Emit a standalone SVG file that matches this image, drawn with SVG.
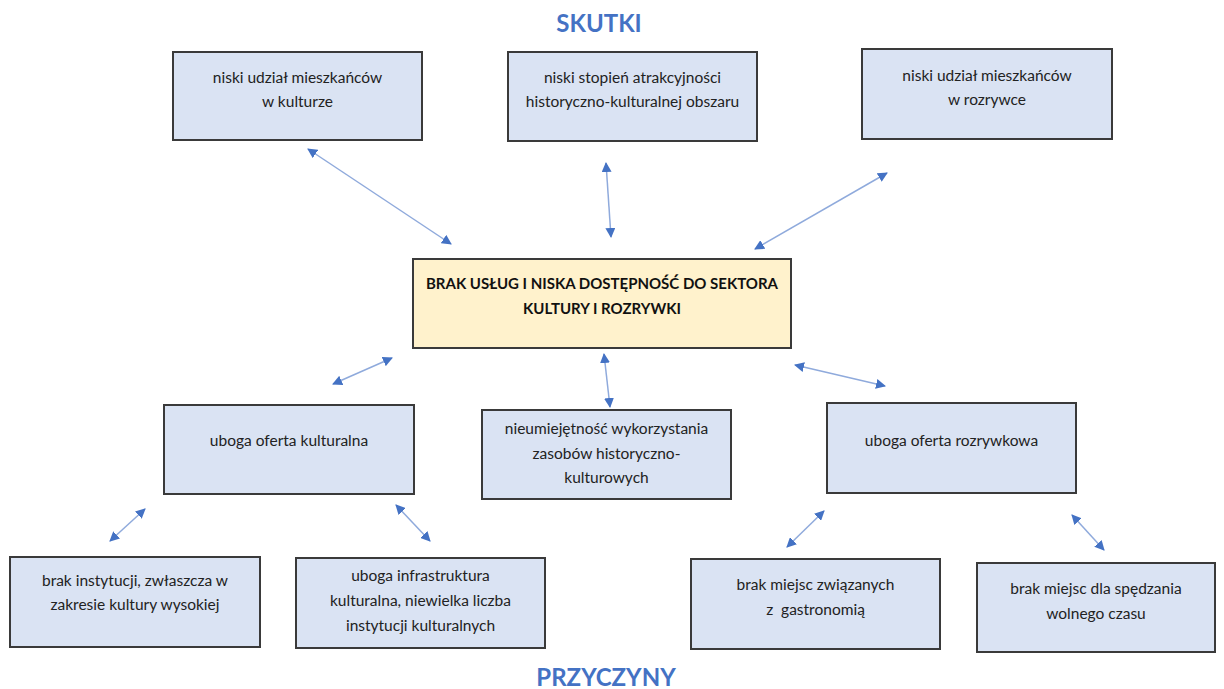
<svg xmlns="http://www.w3.org/2000/svg" width="1224" height="689" viewBox="0 0 1224 689">
<style>
.box{fill:#DAE3F3;stroke:#3a3a3a;stroke-width:2}
.main{fill:#FFF2CC;stroke:#3a3a3a;stroke-width:2}
.t{font-family:Lato,"Liberation Sans",sans-serif;font-size:15.5px;fill:#222;text-anchor:middle}
.tb{font-family:Lato,"Liberation Sans",sans-serif;font-size:15px;font-weight:bold;fill:#111;text-anchor:middle}
.h{font-family:Lato,"Liberation Sans",sans-serif;font-size:24px;font-weight:bold;fill:#4472C4;text-anchor:middle}
.c{stroke:#8FAADC;stroke-width:1.5;fill:none;marker-start:url(#ah);marker-end:url(#ah)}
</style>
<defs>
<marker id="ah" viewBox="0 0 10 10" refX="9" refY="5" markerWidth="10" markerHeight="10" markerUnits="userSpaceOnUse" orient="auto-start-reverse">
<path d="M0,0 L10,5 L0,10 z" fill="#4472C4"/>
</marker>
</defs>
<rect width="1224" height="689" fill="#fff"/>
<text class="h" x="599" y="32">SKUTKI</text>
<text class="h" x="606" y="686">PRZYCZYNY</text>

<g id="connectors">
<line class="c" x1="308" y1="149" x2="451" y2="244"/>
<line class="c" x1="606" y1="163" x2="611" y2="237"/>
<line class="c" x1="887" y1="173" x2="755" y2="249"/>
<line class="c" x1="392" y1="358" x2="333" y2="384"/>
<line class="c" x1="604" y1="354" x2="610" y2="407"/>
<line class="c" x1="795" y1="365" x2="885" y2="386"/>
<line class="c" x1="145" y1="509" x2="110" y2="541"/>
<line class="c" x1="396" y1="505" x2="430" y2="541"/>
<line class="c" x1="824" y1="511" x2="787" y2="547"/>
<line class="c" x1="1072" y1="515" x2="1104" y2="550"/>
</g>

<g id="skutek1">
<rect class="box" x="173" y="52" width="249" height="88"/>
<text class="t" x="297.5" y="83">niski udział mieszkańców</text>
<text class="t" x="297.5" y="107">w kulturze</text>
</g>
<g id="skutek2">
<rect class="box" x="508" y="52" width="249" height="89"/>
<text class="t" x="632.5" y="83">niski stopień atrakcyjności</text>
<text class="t" x="632.5" y="107">historyczno-kulturalnej obszaru</text>
</g>
<g id="skutek3">
<rect class="box" x="862" y="49" width="250" height="90"/>
<text class="t" x="987" y="81">niski udział mieszkańców</text>
<text class="t" x="987" y="105">w rozrywce</text>
</g>
<g id="problem">
<rect class="main" x="413" y="259" width="378" height="89"/>
<text class="tb" x="602" y="289">BRAK USŁUG I NISKA DOSTĘPNOŚĆ DO SEKTORA</text>
<text class="tb" x="602" y="314">KULTURY I ROZRYWKI</text>
</g>
<g id="przyczyna1">
<rect class="box" x="164" y="405" width="250" height="89"/>
<text class="t" x="289" y="446">uboga oferta kulturalna</text>
</g>
<g id="przyczyna2">
<rect class="box" x="482" y="410" width="249" height="89"/>
<text class="t" x="606.5" y="434">nieumiejętność wykorzystania</text>
<text class="t" x="606.5" y="458.5">zasobów historyczno-</text>
<text class="t" x="606.5" y="483">kulturowych</text>
</g>
<g id="przyczyna3">
<rect class="box" x="827" y="403" width="249" height="90"/>
<text class="t" x="951.5" y="446">uboga oferta rozrywkowa</text>
</g>
<g id="przyczyna1a">
<rect class="box" x="10" y="557" width="250" height="90"/>
<text class="t" x="135" y="586">brak instytucji, zwłaszcza w</text>
<text class="t" x="135" y="610">zakresie kultury wysokiej</text>
</g>
<g id="przyczyna1b">
<rect class="box" x="296" y="558" width="249" height="90"/>
<text class="t" x="420.5" y="581">uboga infrastruktura</text>
<text class="t" x="420.5" y="606">kulturalna, niewielka liczba</text>
<text class="t" x="420.5" y="631">instytucji kulturalnych</text>
</g>
<g id="przyczyna3a">
<rect class="box" x="691" y="559" width="249" height="90"/>
<text class="t" x="815.5" y="590">brak miejsc związanych</text>
<text class="t" x="815.5" y="615" xml:space="preserve">z  gastronomią</text>
</g>
<g id="przyczyna3b">
<rect class="box" x="977" y="563" width="238" height="89"/>
<text class="t" x="1096" y="594">brak miejsc dla spędzania</text>
<text class="t" x="1096" y="619">wolnego czasu</text>
</g>
</svg>
